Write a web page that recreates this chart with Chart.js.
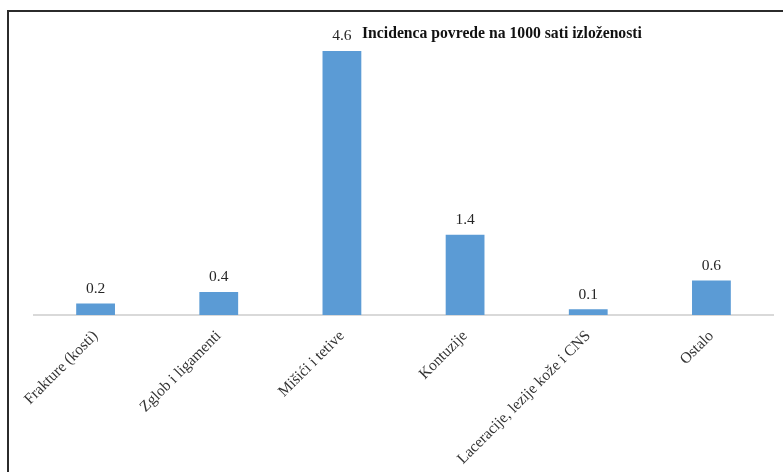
<!DOCTYPE html>
<html>
<head>
<meta charset="utf-8">
<script src="https://cdn.jsdelivr.net/npm/chart.js@4/dist/chart.umd.min.js"></script>
<style>
  html, body { margin: 0; padding: 0; background: #fff; }
  #wrap { width: 783px; height: 472px; position: relative; }
</style>
</head>
<body>
<div id="wrap"><canvas id="injuryChart" width="783" height="472"></canvas></div>
<script>
const categories = ['Frakture (kosti)', 'Zglob i ligamenti', 'Mišići i tetive', 'Kontuzije', 'Laceracije, lezije kože i CNS', 'Ostalo'];
const incidence = [0.2, 0.4, 4.6, 1.4, 0.1, 0.6];
const chartTitle = 'Incidenca povrede na 1000 sati izloženosti';

const serif = '"Liberation Serif", "Times New Roman", serif';

// frame, title and value labels drawn straight onto the canvas
const decorations = {
  id: 'decorations',
  beforeDraw(chart) {
    const ctx = chart.ctx;
    ctx.save();
    ctx.fillStyle = '#fff';
    ctx.fillRect(0, 0, chart.width, chart.height);
    ctx.strokeStyle = '#2b2b2b';
    ctx.lineWidth = 2;
    ctx.beginPath();
    ctx.moveTo(8, chart.height);
    ctx.lineTo(8, 11);
    ctx.lineTo(chart.width, 11);
    ctx.stroke();
    ctx.restore();
  },
  afterDatasetsDraw(chart) {
    const ctx = chart.ctx;
    ctx.save();
    ctx.fillStyle = '#111';
    ctx.font = 'bold 15.7px ' + serif;
    ctx.textAlign = 'left';
    ctx.textBaseline = 'middle';
    ctx.fillText(chartTitle, 362, 34);

    ctx.fillStyle = '#262626';
    ctx.font = '15.5px ' + serif;
    ctx.textAlign = 'center';
    ctx.textBaseline = 'bottom';
    chart.getDatasetMeta(0).data.forEach(function(bar, i) {
      ctx.fillText(incidence[i].toFixed(1), bar.x, bar.y - 7);
    });
    ctx.restore();
  }
};

new Chart(document.getElementById('injuryChart').getContext('2d'), {
  type: 'bar',
  data: {
    labels: categories,
    datasets: [{
      data: incidence,
      backgroundColor: '#5b9bd5',
      borderWidth: 0,
      barPercentage: 0.63,
      categoryPercentage: 0.5
    }]
  },
  options: {
    responsive: false,
    animation: false,
    layout: { padding: { left: 34, right: 10, top: 28, bottom: 0 } },
    plugins: {
      legend: { display: false },
      tooltip: { enabled: false }
    },
    scales: {
      x: {
        grid: { display: false },
        border: { color: '#d9d9d9', width: 2 },
        ticks: {
          color: '#333',
          font: { family: serif, size: 15.5 },
          minRotation: 45,
          maxRotation: 45,
          padding: 4
        },
        afterFit(scale) { scale.height = 157; }
      },
      y: {
        display: false,
        min: 0,
        max: 5
      }
    }
  },
  plugins: [decorations]
});
</script>
</body>
</html>
